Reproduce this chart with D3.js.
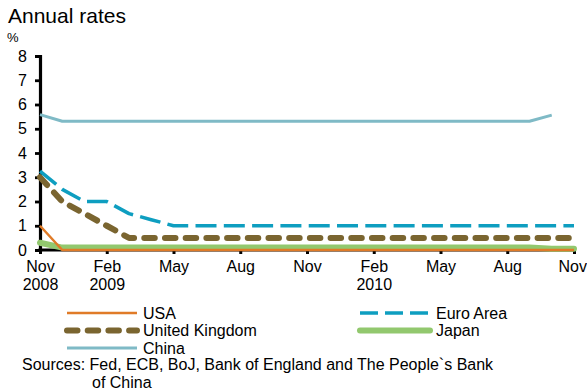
<!DOCTYPE html>
<html><head><meta charset="utf-8">
<script src="https://cdn.jsdelivr.net/npm/d3@7"></script>
<style>
html,body{margin:0;padding:0;background:#fff;}
svg{display:block;font-family:"Liberation Sans",Arial,sans-serif;}
</style></head>
<body>
<svg id="c" width="587" height="392"></svg>
<script>
// monthly observations, Nov 2008 .. Nov 2010
const months = ["2008-11","2008-12","2009-01","2009-02","2009-03","2009-04","2009-05","2009-06","2009-07","2009-08","2009-09","2009-10","2009-11","2009-12","2010-01","2010-02","2010-03","2010-04","2010-05","2010-06","2010-07","2010-08","2010-09","2010-10","2010-11"];
const usa   = [1.0,0,0,0,0,0,0,0,0,0,0,0,0,0,0,0,0,0,0,0,0,0,0,0,0];
const euro  = [3.25,2.5,2.0,2.0,1.5,1.25,1.0,1.0,1.0,1.0,1.0,1.0,1.0,1.0,1.0,1.0,1.0,1.0,1.0,1.0,1.0,1.0,1.0,1.0,1.0];
const uk    = [3.0,2.0,1.5,1.0,0.5,0.5,0.5,0.5,0.5,0.5,0.5,0.5,0.5,0.5,0.5,0.5,0.5,0.5,0.5,0.5,0.5,0.5,0.5,0.5,0.5];
const japan = [0.3,0.1,0.1,0.1,0.1,0.1,0.1,0.1,0.1,0.1,0.1,0.1,0.1,0.1,0.1,0.1,0.1,0.1,0.1,0.1,0.1,0.1,0.1,0.05,0.05];
const china = [5.58,5.31,5.31,5.31,5.31,5.31,5.31,5.31,5.31,5.31,5.31,5.31,5.31,5.31,5.31,5.31,5.31,5.31,5.31,5.31,5.31,5.31,5.31,5.56];
const yTicks = [0,1,2,3,4,5,6,7,8];
const xTickIdx = [0,3,6,9,12,15,18,21,24];
const xTickMonth = ["Nov","Feb","May","Aug","Nov","Feb","May","Aug","Nov"];
const xTickYear  = ["2008","2009","","","","2010","","",""];

const FS = 16;
const svg = d3.select("#c");
const x = d3.scaleLinear().domain([0, months.length-1]).range([40, 574]);
const y = d3.scaleLinear().domain([0, 8]).range([250, 56]);

svg.append("text").attr("x",8).attr("y",23).attr("font-size",21).attr("fill","#000").text("Annual rates");
svg.append("text").attr("x",7).attr("y",42).attr("font-size",13).attr("fill","#000").text("%");

// Y axis
const yAxis = d3.axisLeft(y).tickValues(yTicks).tickSize(5).tickPadding(8).tickFormat(d3.format("d"));
const gy = svg.append("g").attr("transform","translate(40,0)").call(yAxis);
gy.select(".domain").attr("stroke","#000").attr("stroke-width",3.2);
gy.selectAll(".tick line").attr("stroke","#000").attr("stroke-width",2.8);
gy.selectAll(".tick text").attr("font-size",FS).attr("fill","#000").attr("font-family","Liberation Sans, Arial, sans-serif");

// X axis
const xAxis = d3.axisBottom(x).tickValues(xTickIdx).tickSize(4).tickFormat("");
const gx = svg.append("g").attr("transform","translate(0,250)").call(xAxis);
gx.select(".domain").attr("stroke","#000").attr("stroke-width",3).attr("d","M38.5,0H574");
gx.selectAll(".tick line").attr("stroke","#000").attr("stroke-width",3);
gx.selectAll(".tick").each(function(d,i){
  const t = d3.select(this);
  const last = i === xTickIdx.length-1;
  t.append("text").attr("x", last ? 12.5 : 0).attr("y",22).attr("text-anchor", last ? "end" : "middle")
   .attr("font-size",FS).attr("fill","#000")
   .attr("font-family","Liberation Sans, Arial, sans-serif").text(xTickMonth[i]);
  if (xTickYear[i]) t.append("text").attr("y",40).attr("text-anchor","middle").attr("font-size",FS).attr("fill","#000")
   .attr("font-family","Liberation Sans, Arial, sans-serif").text(xTickYear[i]);
});

const line = d3.line().x((d,i)=>x(i)).y(d=>y(d));
const series = [
  {name:"China", data:china, color:"#7FBAC6", w:3, dash:null, cap:"butt"},
  {name:"United Kingdom", data:uk, color:"#7A6530", w:6, dash:"10.5,10.2", cap:"round"},
  {name:"Euro Area", data:euro, color:"#0E9EC0", w:3.5, dash:"21,7.3", cap:"butt"},
  {name:"Japan", data:japan, color:"#92C86E", w:6, dash:null, cap:"round"},
  {name:"USA", data:usa, color:"#E07B28", w:2.5, dash:null, cap:"butt"}
];
series.forEach(s=>{
  svg.append("path").datum(s.data).attr("d",line).attr("fill","none")
    .attr("stroke",s.color).attr("stroke-width",s.w).attr("stroke-linecap",s.cap)
    .attr("stroke-linejoin","round").attr("stroke-dasharray",s.dash);
});

// Legend
const legendItems = [
  {name:"USA", x:67, y:313, s:series[4]},
  {name:"Euro Area", x:360, y:313, s:series[2]},
  {name:"United Kingdom", x:67, y:330.5, s:series[1]},
  {name:"Japan", x:360, y:330.5, s:series[3]},
  {name:"China", x:67, y:348, s:series[0]}
];
legendItems.forEach(it=>{
  const s = it.s;
  let dash = s.dash;
  if (s.name==="Euro Area") dash = "18,7";
  svg.append("line").attr("x1",it.x).attr("x2",it.x+70).attr("y1",it.y).attr("y2",it.y)
    .attr("stroke",s.color).attr("stroke-width",s.w).attr("stroke-linecap",s.cap).attr("stroke-dasharray",dash);
  svg.append("text").attr("x",it.x+76).attr("y",it.y+5.5).attr("font-size",FS).attr("fill","#000").text(it.name);
});

svg.append("text").attr("x",22).attr("y",370).attr("font-size",FS).attr("fill","#000")
  .text("Sources: Fed, ECB, BoJ, Bank of England and The People`s Bank");
svg.append("text").attr("x",92).attr("y",388).attr("font-size",FS).attr("fill","#000").text("of China");
</script>
</body></html>
